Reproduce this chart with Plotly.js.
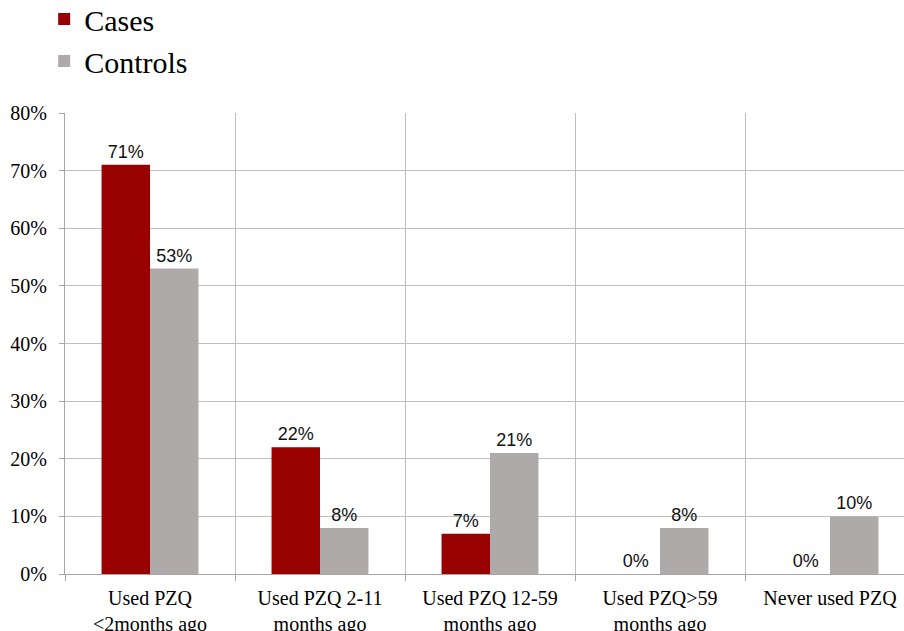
<!DOCTYPE html>
<html>
<head>
<meta charset="utf-8">
<script src="https://cdn.plot.ly/plotly-3.0.1.min.js"></script>
<style>html,body{margin:0;padding:0;overflow:hidden;background:#fff;}</style>
</head>
<body>
<div id="chart"></div>
<script>
const categories = [
  "Used PZQ<br><2months ago",
  "Used PZQ 2-11<br>months ago",
  "Used PZQ 12-59<br>months ago",
  "Used PZQ>59<br>months ago",
  "Never used PZQ"
];
const cases = [0.71, 0.22, 0.07, 0.00, 0.00];
const controls = [0.53, 0.08, 0.21, 0.08, 0.10];
const yTicks = [0, 0.1, 0.2, 0.3, 0.4, 0.5, 0.6, 0.7, 0.8];

const serif = "Liberation Serif, Times New Roman, serif";
const sans = "Liberation Sans, Arial, sans-serif";

const traces = [
  {type: "bar", name: "Cases", x: categories, y: cases,
   marker: {color: "#990000"},
   texttemplate: "%{y:.0%}", textposition: "outside", cliponaxis: false,
   textfont: {family: sans, size: 18, color: "#111"}},
  {type: "bar", name: "Controls", x: categories, y: controls,
   marker: {color: "#AEAAAA"},
   texttemplate: "%{y:.0%}", textposition: "outside", cliponaxis: false,
   textfont: {family: sans, size: 18, color: "#111"}}
];

const layout = {
  width: 920, height: 631,
  margin: {l: 65, r: 5, t: 113, b: 57, autoexpand: false},
  paper_bgcolor: "#fff", plot_bgcolor: "#fff",
  barmode: "group", bargap: 0.43, bargroupgap: 0,
  showlegend: true,
  legend: {xref: "container", yref: "paper", x: 0.048, y: 1.2603, xanchor: "left", yanchor: "top",
           font: {family: serif, size: 30, color: "#000"}, bgcolor: "rgba(0,0,0,0)", traceorder: "normal"},
  xaxis: {type: "category", tickson: "boundaries", ticks: "outside", ticklen: 6, tickcolor: "#A6A6A6",
          showgrid: true, gridcolor: "#BFBFBF", gridwidth: 1,
          showline: true, linecolor: "#A6A6A6", linewidth: 1, ticklabelstandoff: 6,
          tickfont: {family: serif, size: 20, color: "#000"}, automargin: false},
  yaxis: {range: [0, 0.8], tickvals: yTicks, tickformat: ".0%", ticks: "outside", ticklen: 5, tickcolor: "#A6A6A6",
          showgrid: true, gridcolor: "#BFBFBF", gridwidth: 1, zeroline: false,
          showline: true, linecolor: "#A6A6A6", linewidth: 1, ticklabelstandoff: 8,
          tickfont: {family: serif, size: 20, color: "#000"}, automargin: false}
};

Plotly.newPlot("chart", traces, layout, {displayModeBar: false, staticPlot: true});
</script>
</body>
</html>
